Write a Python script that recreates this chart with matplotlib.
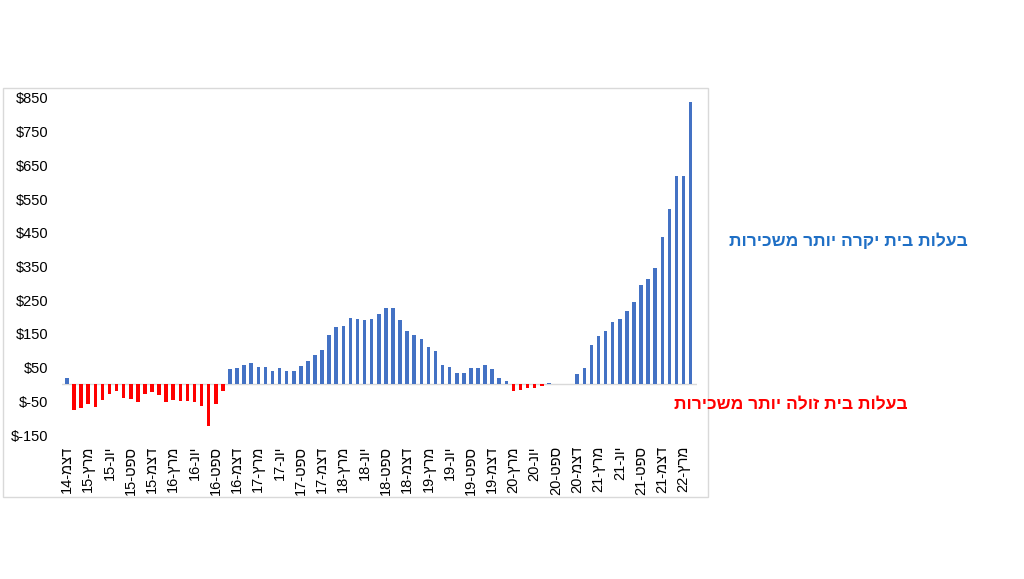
import numpy as np
import matplotlib
matplotlib.use("Agg")
import matplotlib.pyplot as plt
from matplotlib.patches import Rectangle

plt.rcParams['font.family'] = ['Liberation Sans', 'DejaVu Sans']

# חודשים: דצמבר 2014 עד אפריל 2022
month_names = ['ינו', 'פבר', 'מרץ', 'אפר', 'מאי', 'יונ', 'יול', 'אוג', 'ספט', 'אוק', 'נוב', 'דצמ']
start_year = 14
start_month = 11  # דצמ

values = [
    18,
    -75, -69, -59, -66, -47, -27, -20, -41, -44, -52, -28, -22,
    -30, -52, -45, -50, -50, -52, -65, -124, -57, -18, 46, 48,
    58, 63, 53, 51, 40, 49, 41, 39, 56, 69, 86, 103,
    148, 169, 174, 198, 195, 192, 193, 209, 228, 228, 190, 159,
    148, 135, 112, 99, 57, 53, 35, 35, 48, 50, 59, 46,
    18, 9, -18, -16, -12, -11, -5, 4, 2, 0, 0, 30,
    50, 116, 144, 159, 184, 194, 219, 244, 294, 314, 345, 439,
    520, 619, 619, 839,
]

y_ticks = [-150, -50, 50, 150, 250, 350, 450, 550, 650, 750, 850]

label_up = 'בעלות בית יקרה יותר משכירות'
label_down = 'בעלות בית זולה יותר משכירות'


def visual(s):
    # matplotlib אינו מטפל בכיווניות, לכן הופכים את הסדר
    return s[::-1]


def month_label(i):
    m = (start_month + i) % 12
    y = start_year + (start_month + i) // 12
    return f"{y}-{month_names[m][::-1]}"


W, H = 1024, 579
fig = plt.figure(figsize=(W / 100, H / 100), dpi=100)

# מסגרת התרשים
fig.patches.append(Rectangle((3 / W, 1 - 497 / H), 705 / W, 409 / H,
                             transform=fig.transFigure, fill=False,
                             edgecolor='#D9D9D9', lw=1))

ax = fig.add_axes([62 / W, 1 - 435 / H, 635 / W, 337 / H])

x = np.arange(len(values))
vals = np.array(values)
colors = np.where(vals < 0, '#FF0000', '#4472C4')
ax.bar(x, vals, width=0.5, color=colors, zorder=2)
ax.axhline(0, color='#D9D9D9', lw=1, zorder=1)

ax.set_xlim(-0.7, len(values) - 0.1)
ax.set_ylim(-150, 850)
ax.set_yticks(y_ticks)
ax.set_yticklabels([f"${v}" for v in y_ticks], fontsize=10.5)

tick_pos = x[::3]
ax.set_xticks(tick_pos)
ax.set_xticklabels([month_label(i) for i in tick_pos], rotation=90, fontsize=10.5)
ax.tick_params(axis='y', length=0, pad=10)
ax.tick_params(axis='x', length=0, pad=8)

for s in ax.spines.values():
    s.set_visible(False)

fig.text(848 / W, 1 - 241 / H, visual(label_up), color='#1F6FC5', fontsize=12.5,
         fontweight='bold', ha='center', va='center')
fig.text(791 / W, 1 - 405 / H, visual(label_down), color='#FF0000', fontsize=12.5,
         fontweight='bold', ha='center', va='center')

fig.savefig('out.png', dpi=100)
